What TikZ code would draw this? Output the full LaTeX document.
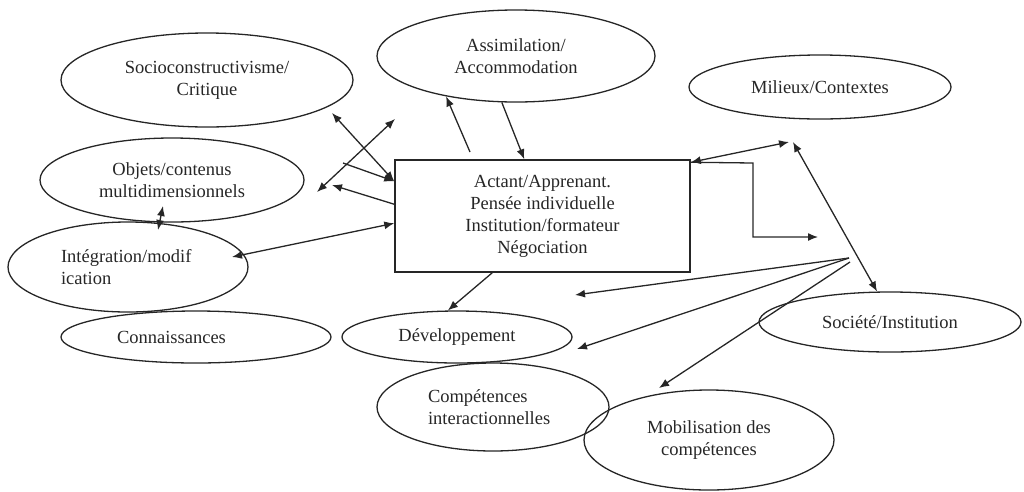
\documentclass[tikz,border=0pt]{standalone}
\usepackage{fontspec}
\setmainfont{Liberation Serif}
\usetikzlibrary{arrows.meta,shapes.geometric}
\begin{document}
\begin{tikzpicture}[x=1pt,y=-1pt,
  txt/.style={font=\fontsize{18.5}{22}\selectfont, text=black!85},
  ell/.style={ellipse, draw=black!85, line width=1.3pt, inner sep=0pt, align=center, txt},
  boxn/.style={rectangle, draw=black!85, line width=1.5pt, inner sep=0pt, align=center, txt},
  conn/.style={draw=black!85, line width=1.3pt},
  tip/.style={-{Latex[length=10pt,width=8pt]}},
  both/.style={{Latex[length=10pt,width=8pt]}-{Latex[length=10pt,width=8pt]}}]
\useasboundingbox (0,0) rectangle (1024,491);
% ellipses
\node[ell, minimum width=292pt, minimum height=94pt] (socio) at (207,80) {Socioconstructivisme/\\Critique};
\node[ell, minimum width=278pt, minimum height=92pt] (assim) at (516,56) {Assimilation/\\Accommodation};
\node[ell, minimum width=262pt, minimum height=64pt] (milieux) at (820,87) {Milieux/Contextes};
\node[ell, minimum width=264pt, minimum height=84pt] (objets) at (172,180) {Objets/contenus\\multidimensionnels};
\node[ell, minimum width=240pt, minimum height=90pt, align=left, text width=134pt] (integ) at (128,267) {Intégration/modif\\ication};
\node[ell, minimum width=270pt, minimum height=52pt, align=left, text width=158pt] (conn) at (196,337) {Connaissances};
\node[ell, minimum width=230pt, minimum height=52pt] (dev) at (457,337) {Développement};
\node[ell, minimum width=232pt, minimum height=88pt, align=left, text width=130pt] (comp) at (493,407) {Compétences\\interactionnelles};
\node[ell, minimum width=250pt, minimum height=100pt] (mobil) at (709,440) {Mobilisation des\\compétences};
\node[ell, minimum width=262pt, minimum height=60pt] (soc) at (890,322) {Société/Institution};
% central box
\node[boxn, minimum width=295pt, minimum height=112pt] (box) at (542.5,216) {Actant/Apprenant.\\Pensée individuelle\\Institution/formateur\\Négociation};
% free ends
\coordinate (a1s) at (470,152);
\coordinate (x1a) at (332,113);
\coordinate (x2a) at (317,192);
\coordinate (x2b) at (395,119);
\coordinate (s1s) at (343,163);
\coordinate (s2e) at (332,185);
\coordinate (d1a) at (163,206);
\coordinate (d1b) at (158,230);
\coordinate (d2a) at (232,257);
\coordinate (d3e) at (789,142);
\coordinate (d4s) at (793,142);
\coordinate (ec1) at (753,163);
\coordinate (ec2) at (753,237);
\coordinate (ee) at (818,237);
\coordinate (hub1) at (849,258);
\coordinate (hub2) at (850,262);
\coordinate (f1e) at (575,295);
\coordinate (f2e) at (577,349);
\coordinate (f3e) at (659,388);
% connectors
\draw[conn,tip] (a1s) -- (assim.210);
\draw[conn,tip] (assim.253) -- ([xshift=130pt]box.north west);
\draw[conn,both] (x1a) -- ([yshift=-22pt]box.north west);
\draw[conn,both] (x2a) -- (x2b);
\draw[conn,tip] (s1s) -- ([yshift=-22pt]box.north west);
\draw[conn,tip] ([yshift=-45pt]box.north west) -- (s2e);
\draw[conn,both] (d1a) -- (d1b);
\draw[conn,both] (d2a) -- ([yshift=-64pt]box.north west);
\draw[conn,tip] ([xshift=98pt]box.south west) -- (dev.109);
\draw[conn,both] ([yshift=-3pt]box.north east) -- (d3e);
\draw[conn,tip] ([yshift=-3pt]box.north east) -- (ec1) -- (ec2) -- (ee);
\draw[conn,both] (d4s) -- (soc.113);
\draw[conn,tip] (hub1) -- (f1e);
\draw[conn,tip] (hub1) -- (f2e);
\draw[conn,tip] (hub2) -- (f3e);
\end{tikzpicture}
\end{document}
